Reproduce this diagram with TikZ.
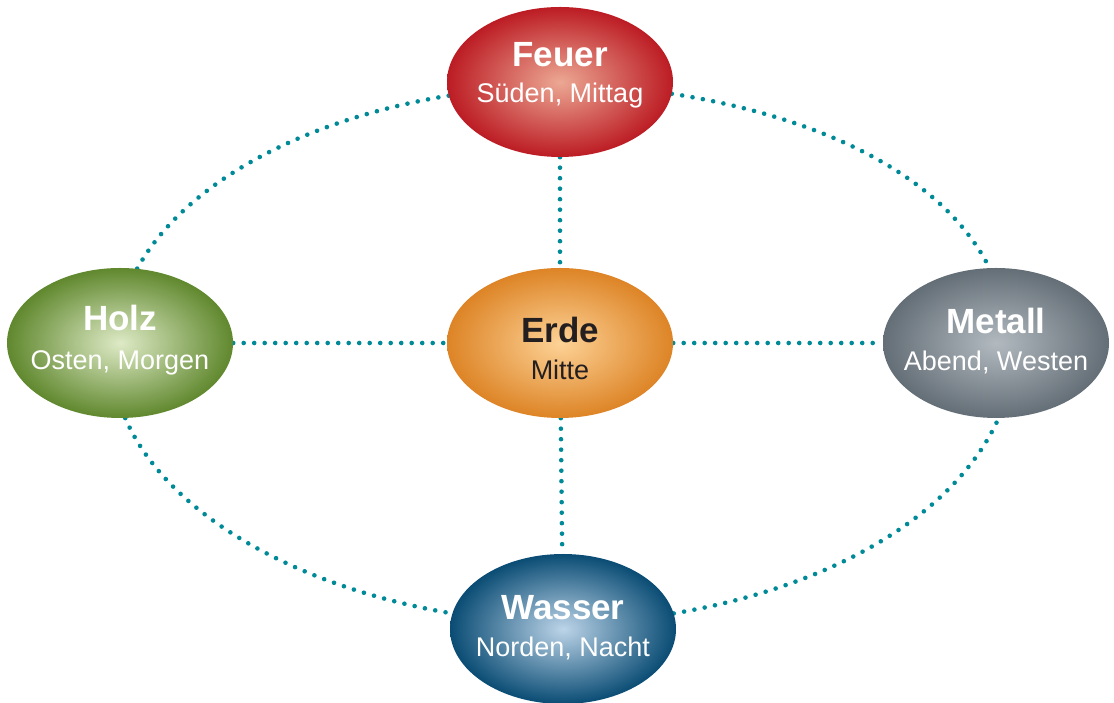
\documentclass[tikz,border=0pt]{standalone}
\usepackage{fontspec}
\setmainfont{Liberation Sans}
\usetikzlibrary{shapes.geometric}
\pgfdeclarelayer{background}
\pgfsetlayers{background,main}
\definecolor{tealdot}{RGB}{0,138,152}
\definecolor{feuerIn}{RGB}{236,168,148}
\definecolor{feuerOut}{RGB}{188,28,36}
\definecolor{erdeIn}{RGB}{253,210,150}
\definecolor{erdeOut}{RGB}{221,132,38}
\definecolor{holzIn}{RGB}{222,234,198}
\definecolor{holzOut}{RGB}{96,136,46}
\definecolor{metallIn}{RGB}{178,186,192}
\definecolor{metallOut}{RGB}{100,110,118}
\definecolor{wasserIn}{RGB}{188,212,232}
\definecolor{wasserOut}{RGB}{10,76,116}
\definecolor{darktext}{RGB}{35,31,32}
\begin{document}
\begin{tikzpicture}[x=1pt,y=1pt,
  elem/.style={ellipse, minimum width=226pt, minimum height=150pt, inner sep=0pt, shading=radial},
  ttl/.style={anchor=base, inner sep=0pt, font=\fontsize{35}{35}\selectfont\bfseries, text=white},
  sub/.style={anchor=base, inner sep=0pt, font=\fontsize{27}{27}\selectfont, text=white},
  dotline/.style={line width=4.6pt, line cap=round, dash pattern=on 0pt off 10.5pt, draw=tealdot}]
\useasboundingbox (0,0) rectangle (1114,703);

\node[elem, inner color=feuerIn, outer color=feuerOut] (feuer) at (560,621) {};
\node[elem, inner color=erdeIn, outer color=erdeOut] (erde) at (560,360) {};
\node[elem, inner color=holzIn, outer color=holzOut] (holz) at (120,360) {};
\node[elem, inner color=metallIn, outer color=metallOut] (metall) at (996,360) {};
\node[elem, inner color=wasserIn, outer color=wasserOut] (wasser) at (563,74) {};

\node[ttl] (feuerT) at ([yshift=15pt]feuer.center) {Feuer};
\node[sub] (feuerS) at ([yshift=-21pt]feuer.center) {Süden, Mittag};
\node[ttl, text=darktext] (erdeT) at ([yshift=0pt]erde.center) {Erde};
\node[sub, text=darktext] (erdeS) at ([yshift=-37pt]erde.center) {Mitte};
\node[ttl] (holzT) at ([yshift=12pt]holz.center) {Holz};
\node[sub] (holzS) at ([yshift=-27pt]holz.center) {Osten, Morgen};
\node[ttl] (metallT) at ([yshift=9pt]metall.center) {Metall};
\node[sub] (metallS) at ([yshift=-28pt]metall.center) {Abend, Westen};
\node[ttl] (wasserT) at ([yshift=9pt]wasser.center) {Wasser};
\node[sub] (wasserS) at ([yshift=-28pt]wasser.center) {Norden, Nacht};

\begin{pgfonlayer}{background}
\draw[dotline] (feuer) -- (erde);
\draw[dotline] (holz) -- (erde);
\draw[dotline] (erde) -- (metall);
\draw[dotline] (erde) -- (wasser);
\draw[dotline] (feuer.187) .. controls (301,583) and (184,519) .. (holz.77);
\draw[dotline] (feuer.354) .. controls (827,585) and (944,525) .. (metall.95);
\draw[dotline] (holz.274) .. controls (166,190) and (295,116) .. (wasser.172);
\draw[dotline] (wasser.8) .. controls (830,116) and (954,186) .. (metall.272);
\end{pgfonlayer}
\end{tikzpicture}
\end{document}
